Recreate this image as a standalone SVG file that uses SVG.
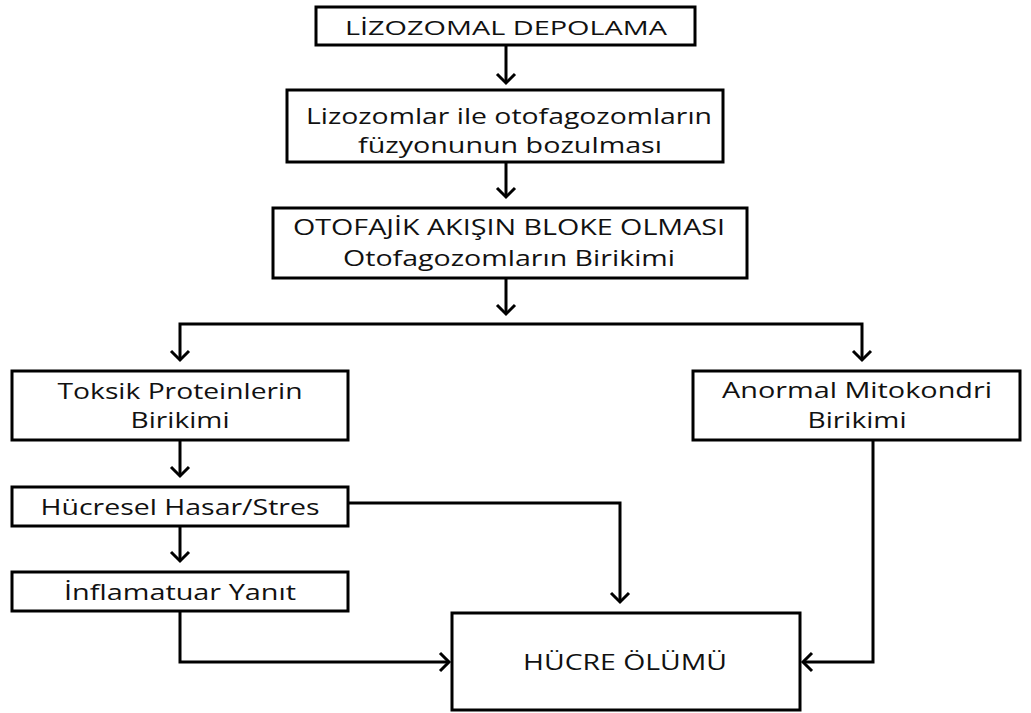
<svg xmlns="http://www.w3.org/2000/svg" width="1031" height="713" viewBox="0 0 1031 713">
<style>
.box{fill:#fff;stroke:#000;stroke-width:3}
.t{font-family:"Open Sans","Liberation Sans",sans-serif;font-size:22px;font-weight:400;fill:#111;text-anchor:middle}
.s{font-size:20px}
.c{fill:none;stroke:#000;stroke-width:3;stroke-linejoin:miter}
</style>
<defs>
<marker id="ah" markerUnits="userSpaceOnUse" markerWidth="14" markerHeight="22" refX="10" refY="10" orient="auto" viewBox="0 0 14 22" overflow="visible">
<path d="M1,1 L10,10 L1,19" fill="none" stroke="#000" stroke-width="3"/>
</marker>
</defs>
<rect width="1031" height="713" fill="#fff"/>
<g id="connectors">
<path class="c" d="M506,45 V83" marker-end="url(#ah)"/>
<path class="c" d="M506,162 V197" marker-end="url(#ah)"/>
<path class="c" d="M506,278 V314" marker-end="url(#ah)"/>
<path class="c" d="M506,324 H180 V360" marker-end="url(#ah)"/>
<path class="c" d="M506,324 H862 V360" marker-end="url(#ah)"/>
<path class="c" d="M180,440 V476" marker-end="url(#ah)"/>
<path class="c" d="M180,526 V561" marker-end="url(#ah)"/>
<path class="c" d="M348,503 H620 V602" marker-end="url(#ah)"/>
<path class="c" d="M180,611 V662 H449" marker-end="url(#ah)"/>
<path class="c" d="M873,440 V662 H803" marker-end="url(#ah)"/>
</g>
<g id="n1"><rect class="box" x="316" y="7" width="379" height="38"/><text class="t s" x="506" y="35" textLength="322" lengthAdjust="spacingAndGlyphs">LİZOZOMAL DEPOLAMA</text></g>
<g id="n2"><rect class="box" x="287" y="90" width="436" height="72"/><text class="t" x="509" y="124" textLength="406" lengthAdjust="spacingAndGlyphs">Lizozomlar ile otofagozomların</text><text class="t" x="510" y="153" textLength="304" lengthAdjust="spacingAndGlyphs">füzyonunun bozulması</text></g>
<g id="n3"><rect class="box" x="273" y="208" width="474" height="70"/><text class="t" x="509" y="235" textLength="432" lengthAdjust="spacingAndGlyphs">OTOFAJİK AKIŞIN BLOKE OLMASI</text><text class="t" x="509" y="266" textLength="332" lengthAdjust="spacingAndGlyphs">Otofagozomların Birikimi</text></g>
<g id="n4"><rect class="box" x="12" y="371" width="336" height="69"/><text class="t" x="180" y="399" textLength="245" lengthAdjust="spacingAndGlyphs">Toksik Proteinlerin</text><text class="t" x="180" y="428" textLength="99" lengthAdjust="spacingAndGlyphs">Birikimi</text></g>
<g id="n5"><rect class="box" x="693" y="371" width="327" height="69"/><text class="t" x="857" y="398" textLength="270" lengthAdjust="spacingAndGlyphs">Anormal Mitokondri</text><text class="t" x="857" y="428" textLength="99" lengthAdjust="spacingAndGlyphs">Birikimi</text></g>
<g id="n6"><rect class="box" x="12" y="487" width="336" height="39"/><text class="t" x="180" y="515" textLength="279" lengthAdjust="spacingAndGlyphs">Hücresel Hasar/Stres</text></g>
<g id="n7"><rect class="box" x="12" y="572" width="336" height="39"/><text class="t" x="180" y="600" textLength="232" lengthAdjust="spacingAndGlyphs">İnflamatuar Yanıt</text></g>
<g id="n8"><rect class="box" x="452" y="613" width="348" height="97"/><text class="t" x="625" y="670" textLength="204" lengthAdjust="spacingAndGlyphs">HÜCRE ÖLÜMÜ</text></g>
</svg>
